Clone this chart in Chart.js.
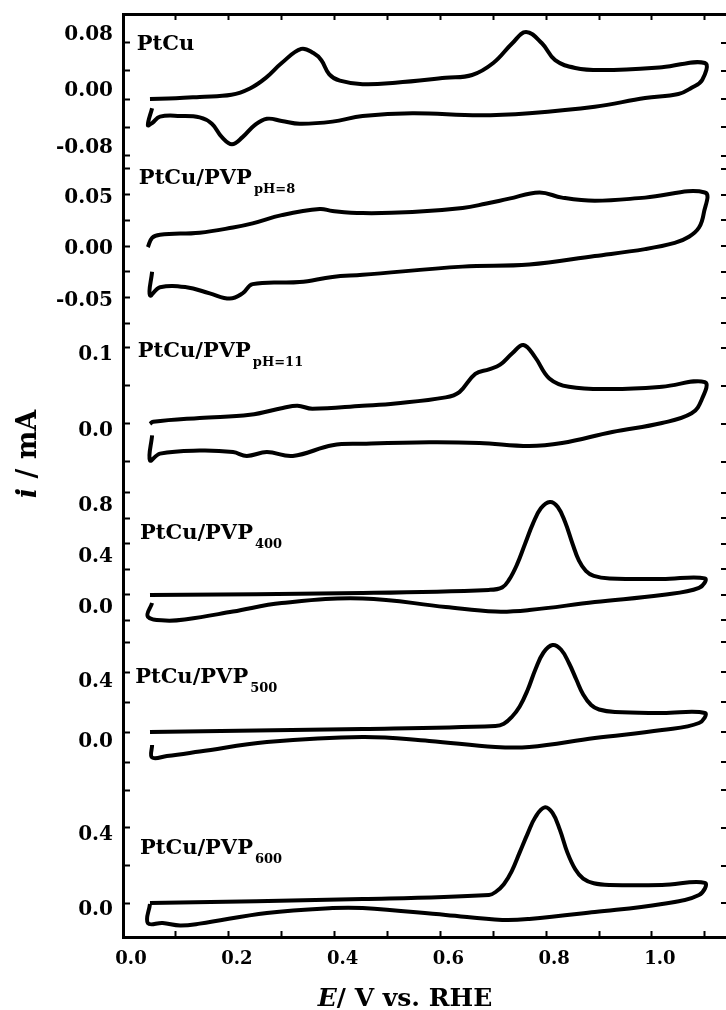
<!DOCTYPE html>
<html>
<head>
<meta charset="utf-8">
<script src="https://cdn.jsdelivr.net/npm/chart.js@4.4.1/dist/chart.umd.min.js"></script>
<style>
html,body{margin:0;padding:0;background:#fff;}
#wrap{width:726px;height:1010px;position:relative;}
</style>
</head>
<body>
<div id="wrap"><canvas id="c" width="726" height="1010"></canvas></div>
<script>
// ---------------- data (E in V vs. RHE, i in mA) ----------------
const ptcuE = [0.051,0.10,0.145,0.205,0.24,0.27,0.30,0.337,0.36,0.375,0.39,0.41,0.453,0.515,0.61,0.66,0.70,0.736,0.762,0.792,0.817,0.855,0.906,1.019,1.10,
               1.095,1.075,1.05,0.987,0.892,0.768,0.674,0.547,0.453,0.396,0.334,0.30,0.272,0.249,0.226,0.206,0.187,0.168,0.145,0.108,0.07,0.055,0.047,0.055];
const ptcuI = [0,0.001,0.003,0.006,0.015,0.03,0.051,0.071,0.065,0.055,0.035,0.026,0.021,0.023,0.03,0.034,0.051,0.079,0.095,0.079,0.055,0.044,0.041,0.045,0.051,
               0.027,0.016,0.007,0.0014,-0.011,-0.02,-0.023,-0.02,-0.024,-0.032,-0.035,-0.031,-0.028,-0.037,-0.054,-0.064,-0.054,-0.035,-0.026,-0.024,-0.025,-0.034,-0.037,-0.013];

const ph8E = [0.047,0.055,0.07,0.145,0.208,0.245,0.30,0.372,0.396,0.453,0.547,0.642,0.685,0.73,0.787,0.83,0.892,0.987,1.10,
              1.098,1.089,1.07,1.043,0.987,0.892,0.768,0.642,0.453,0.396,0.334,0.245,0.226,0.202,0.164,0.12,0.07,0.051,0.055];
const ph8I = [-0.001,0.008,0.011,0.013,0.018,0.022,0.030,0.036,0.034,0.032,0.033,0.037,0.041,0.046,0.052,0.047,0.044,0.047,0.052,
              0.032,0.018,0.009,0.003,-0.003,-0.0097,-0.018,-0.020,-0.028,-0.030,-0.035,-0.037,-0.046,-0.051,-0.046,-0.040,-0.040,-0.048,-0.025];

const ph11E = [0.051,0.057,0.145,0.24,0.302,0.33,0.358,0.453,0.515,0.61,0.636,0.666,0.692,0.713,0.736,0.757,0.779,0.806,0.843,0.925,1.019,1.10,
               1.094,1.075,1.019,0.925,0.83,0.768,0.674,0.579,0.453,0.396,0.321,0.272,0.234,0.208,0.145,0.07,0.051,0.055];
const ph11I = [0,0.003,0.008,0.012,0.021,0.024,0.02,0.024,0.027,0.035,0.042,0.066,0.072,0.078,0.093,0.104,0.088,0.060,0.049,0.046,0.049,0.055,
               0.032,0.014,0.0013,-0.0105,-0.025,-0.029,-0.025,-0.024,-0.026,-0.028,-0.042,-0.037,-0.042,-0.037,-0.035,-0.039,-0.048,-0.015];

const p400E = [0.051,0.453,0.692,0.717,0.73,0.745,0.76,0.775,0.79,0.807,0.822,0.836,0.85,0.862,0.875,0.89,0.92,1.019,1.10,
               1.089,1.019,0.892,0.768,0.704,0.61,0.453,0.30,0.208,0.12,0.08,0.047,0.055];
const p400I = [0,0.016,0.04,0.06,0.12,0.24,0.40,0.56,0.68,0.73,0.69,0.57,0.40,0.27,0.19,0.15,0.13,0.125,0.13,
               0.055,0.0,-0.055,-0.118,-0.13,-0.094,-0.027,-0.063,-0.13,-0.19,-0.2,-0.17,-0.063];

const p500E = [0.051,0.453,0.704,0.72,0.735,0.75,0.765,0.78,0.795,0.812,0.828,0.843,0.857,0.87,0.885,0.90,0.93,1.019,1.10,
               1.089,1.019,0.892,0.768,0.704,0.579,0.453,0.272,0.145,0.083,0.055,0.055];
const p500I = [0,0.02,0.04,0.055,0.10,0.17,0.28,0.42,0.53,0.58,0.55,0.46,0.35,0.25,0.18,0.15,0.133,0.127,0.127,
               0.06,0.013,-0.04,-0.1,-0.1,-0.06,-0.033,-0.067,-0.13,-0.16,-0.17,-0.087];

const p600E = [0.051,0.453,0.692,0.705,0.72,0.735,0.75,0.765,0.78,0.797,0.812,0.826,0.84,0.855,0.87,0.89,0.92,1.019,1.10,
               1.089,1.019,0.892,0.768,0.717,0.61,0.453,0.396,0.272,0.145,0.108,0.075,0.047,0.051];
const p600I = [0,0.021,0.043,0.06,0.10,0.17,0.27,0.37,0.46,0.51,0.48,0.39,0.27,0.18,0.13,0.105,0.096,0.096,0.107,
               0.043,-0.005,-0.048,-0.085,-0.09,-0.064,-0.027,-0.027,-0.053,-0.11,-0.12,-0.107,-0.107,-0.005];

// tick values and labels
const xTicks  = [0,0.1,0.2,0.3,0.4,0.5,0.6,0.7,0.8,0.9,1.0,1.1];
const xLabels = ['0.0','','0.2','','0.4','','0.6','','0.8','','1.0',''];
const y1Ticks = [-0.08,-0.04,0,0.04,0.08];             const y1Labels = ['-0.08','','0.00','','0.08'];
const y2Ticks = [-0.075,-0.05,-0.025,0,0.025,0.05,0.075]; const y2Labels = ['','-0.05','','0.00','','0.05',''];
const y3Ticks = [-0.05,0,0.05,0.1];                    const y3Labels = ['','0.0','','0.1'];
const y4Ticks = [-0.2,0,0.2,0.4,0.6,0.8];              const y4Labels = ['','0.0','','0.4','','0.8'];
const y5Ticks = [-0.2,0,0.2,0.4,0.6];                  const y5Labels = ['','0.0','','0.4',''];
const y6Ticks = [0,0.2,0.4,0.6];                       const y6Labels = ['0.0','','0.4',''];

// panel names (main text + subscript)
const panelNames = ['PtCu','PtCu/PVP','PtCu/PVP','PtCu/PVP','PtCu/PVP','PtCu/PVP'];
const panelSubs  = ['','pH=8','pH=11','400','500','600'];

// ---------------- chart ----------------
const FONT = '"DejaVu Serif", "Liberation Serif", serif';
const panels = [
  {id:'y1', E:ptcuE, I:ptcuI, ticks:y1Ticks, labels:y1Labels, min:-0.0892, max:0.1204, band:148, off:-8, at:[0.026,0.0694]},
  {id:'y2', E:ph8E,  I:ph8I,  ticks:y2Ticks, labels:y2Labels, min:-0.0864, max:0.0816, band:173, off:3,  at:[0.030,0.0602]},
  {id:'y3', E:ph11E, I:ph11I, ticks:y3Ticks, labels:y3Labels, min:-0.0711, max:0.1171, band:143, off:7,  at:[0.028,0.0882]},
  {id:'y4', E:p400E, I:p400I, ticks:y4Ticks, labels:y4Labels, min:-0.2902, max:0.9176, band:154, off:13, at:[0.032,0.439]},
  {id:'y5', E:p500E, I:p500I, ticks:y5Ticks, labels:y5Labels, min:-0.2933, max:0.6667, band:144, off:10, at:[0.023,0.327]},
  {id:'y6', E:p600E, I:p600I, ticks:y6Ticks, labels:y6Labels, min:-0.1813, max:0.6773, band:161, off:7,  at:[0.032,0.261]}
];

function noPad(s) { s.paddingTop = 0; s.paddingBottom = 0; s.paddingLeft = 0; s.paddingRight = 0; }

const scales = {};
panels.forEach((p, k) => {
  scales[p.id] = {
    type:'linear', position:'left', stack:'cv', stackWeight:p.band, weight:10 - k,
    min:p.min, max:p.max,
    afterBuildTicks: s => { s.ticks = p.ticks.map(v => ({value:v})); },
    afterFit: s => { s.width = 123; noPad(s); },
    grid:{display:true, drawOnChartArea:false, drawTicks:true, tickLength:-7, tickWidth:2, tickColor:'#000', color:'#000'},
    border:{display:true, color:'#000', width:3},
    ticks:{autoSkip:false, padding:17, labelOffset:p.off, color:'#000',
           font:{family:FONT, weight:'bold', size:20},
           callback:(v, i) => p.labels[i]}
  };
});
scales.x = {
  type:'linear', position:'bottom', min:0, max:1.14,
  afterBuildTicks: s => { s.ticks = xTicks.map(v => ({value:v})); },
  afterFit: s => { s.height = 73; noPad(s); },
  grid:{display:true, drawOnChartArea:false, tickLength:-6, tickWidth:2, tickColor:'#000', color:'#000'},
  border:{display:true, color:'#000', width:3},
  ticks:{autoSkip:false, maxRotation:0, padding:18, labelOffset:8, color:'#000',
         font:{family:FONT, weight:'bold', size:18},
         callback:(v, i) => xLabels[i]}
};
scales.xTop = {
  type:'linear', position:'top', min:0, max:1.14,
  afterBuildTicks: s => { s.ticks = xTicks.map(v => ({value:v})); },
  afterFit: s => { s.height = 0; noPad(s); },
  grid:{display:true, drawOnChartArea:false, tickLength:-6, tickWidth:2, tickColor:'#000', color:'#000'},
  border:{display:true, color:'#000', width:3},
  ticks:{display:false}
};

const annotations = {
  id:'annotations',
  afterDraw(chart) {
    const ctx = chart.ctx, ca = chart.chartArea, xs = chart.scales.x;
    ctx.save();
    // mirrored ticks on the right edge
    ctx.strokeStyle = '#000'; ctx.lineWidth = 2;
    panels.forEach(p => {
      const s = chart.scales[p.id];
      s.ticks.forEach(t => {
        const y = Math.round(s.getPixelForValue(t.value));
        ctx.beginPath(); ctx.moveTo(ca.right - 5, y); ctx.lineTo(ca.right, y); ctx.stroke();
      });
    });
    // panel names
    ctx.fillStyle = '#000'; ctx.textAlign = 'left'; ctx.textBaseline = 'alphabetic';
    panels.forEach((p, k) => {
      const s = chart.scales[p.id];
      const x = xs.getPixelForValue(p.at[0]), y = s.getPixelForValue(p.at[1]);
      ctx.font = 'bold 21px ' + FONT;
      ctx.fillText(panelNames[k], x, y);
      if (panelSubs[k]) {
        const w = ctx.measureText(panelNames[k]).width;
        ctx.font = 'bold 13px ' + FONT;
        ctx.fillText(panelSubs[k], x + w + 2, y + 9);
      }
    });
    // x axis title
    const xParts = [['E','italic bold 25px '], ['/ V vs. RHE','bold 25px ']];
    let tw = 0;
    xParts.forEach(q => { ctx.font = q[1] + FONT; tw += ctx.measureText(q[0]).width; });
    let cx = 405 - tw / 2;
    xParts.forEach(q => { ctx.font = q[1] + FONT; ctx.fillText(q[0], cx, 1006); cx += ctx.measureText(q[0]).width; });
    // y axis title
    const yParts = [['i','italic bold 27px '], [' / mA','bold 27px ']];
    ctx.translate(36, 454); ctx.rotate(-Math.PI / 2);
    tw = 0;
    yParts.forEach(q => { ctx.font = q[1] + FONT; tw += ctx.measureText(q[0]).width; });
    cx = -tw / 2;
    yParts.forEach(q => { ctx.font = q[1] + FONT; ctx.fillText(q[0], cx, 0); cx += ctx.measureText(q[0]).width; });
    ctx.restore();
  }
};

new Chart(document.getElementById('c'), {
  type:'scatter',
  data:{
    datasets: panels.map(p => ({
      label: p.id,
      data: p.E.map((e, k) => ({x:e, y:p.I[k]})),
      yAxisID: p.id, xAxisID:'x',
      showLine:true, pointRadius:0, borderColor:'#000', backgroundColor:'#000',
      borderWidth:4, tension:0.4, clip:false, fill:false
    }))
  },
  options:{
    responsive:false, animation:false, devicePixelRatio:1,
    layout:{padding:{top:14, left:0, right:0, bottom:0}},
    plugins:{legend:{display:false}, tooltip:{enabled:false}},
    scales
  },
  plugins:[annotations]
});
</script>
</body>
</html>
